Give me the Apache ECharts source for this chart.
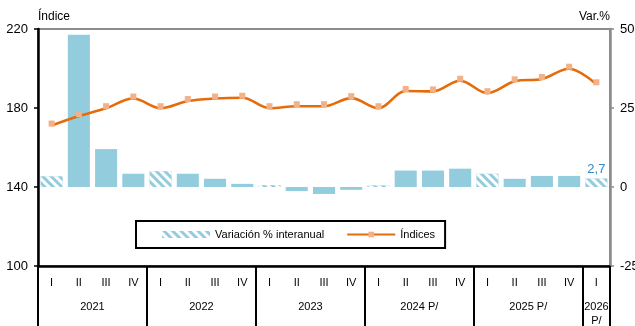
<!DOCTYPE html>
<html>
<head>
<meta charset="utf-8">
<script src="https://cdn.jsdelivr.net/npm/echarts@6/dist/echarts.min.js"></script>
<style>
  html, body { margin: 0; padding: 0; background: #fff; }
  #chart { width: 635px; height: 326px; }
</style>
</head>
<body>
<div id="chart"></div>
<script>
// Quarter labels along the bottom, one per period
const quarters = ['I','II','III','IV', 'I','II','III','IV', 'I','II','III','IV',
                  'I','II','III','IV', 'I','II','III','IV', 'I'];
// Year group labels and where each group is centred (in period units)
const years = ['2021', '2022', '2023', '2024 P/', '2025 P/', '2026\nP/'];
const yearCenters = [2, 6, 10, 14, 18, 20.5];
// Index level per quarter (left axis)
const indexValues = [171.1, 175.9, 179.9, 184.8, 179.9, 183.5, 184.8, 185.2,
                     179.9, 180.9, 180.9, 185.0, 179.9, 188.6, 188.4, 193.8,
                     187.5, 193.5, 194.7, 199.9, 192.0];
// Year-on-year change, % (right axis)
const yoyValues = [3.4, 48.2, 12.0, 4.2, 5.0, 4.2, 2.6, 1.0,
                   0.6, -1.3, -2.2, -0.9, 0.5, 5.2, 5.2, 5.8,
                   4.2, 2.6, 3.5, 3.5, 2.7];

const NARROW = "'Liberation Sans Narrow', 'Liberation Sans', Arial, sans-serif";
const SANS = "'Liberation Sans', Arial, sans-serif";
const BAR_BLUE = '#93cddd';
const makeHatch = () => ({
  symbol: 'rect',
  color: '#ffffff',
  dashArrayX: [1, 0],
  dashArrayY: [3, 3],
  rotation: Math.PI / 4
});

const lastIdx = yoyValues.length - 1;
const barData = yoyValues.map((v, i) => {
  const item = { value: v };
  if (quarters[i] === 'I') item.itemStyle = { decal: makeHatch() };
  if (i === lastIdx) {
    item.label = {
      show: true, position: 'top', distance: 3,
      color: '#2f8bc9', fontFamily: SANS, fontSize: 13,
      formatter: p => String(p.value).replace('.', ',')
    };
  }
  return item;
});

const chart = echarts.init(document.getElementById('chart'), null, { renderer: 'canvas' });
chart.setOption({
  animation: false,
  backgroundColor: '#ffffff',
  grid: {
    left: 38, right: 25, top: 29, bottom: 60,
    outerBoundsMode: 'none',
    containLabel: false,
    show: true, borderColor: '#8c8c8c', borderWidth: 2, backgroundColor: 'transparent'
  },
  legend: {
    left: 136, top: 221,
    padding: [8, 10, 8, 26],
    borderColor: '#000', borderWidth: 2,
    itemWidth: 48, itemHeight: 7, itemGap: 22,
    textStyle: { fontFamily: NARROW, fontSize: 11, color: '#000' },
    data: [
      { name: 'Variación % interanual', icon: 'rect', itemStyle: { decal: makeHatch() } },
      { name: 'Índices' }
    ]
  },
  xAxis: [
    {
      type: 'category',
      data: quarters,
      boundaryGap: true,
      axisLine: { onZero: false, lineStyle: { color: '#000', width: 2.5 } },
      axisTick: {
        show: true, length: 60,
        interval: (i) => i % 4 === 0,
        lineStyle: { color: '#000', width: 2 }
      },
      axisLabel: { interval: 0, margin: 11, fontFamily: NARROW, fontSize: 11, color: '#000' }
    },
    {
      type: 'value',
      min: 0, max: quarters.length, interval: 0.5,
      position: 'bottom',
      axisLine: { show: false, onZero: false }, axisTick: { show: false }, splitLine: { show: false },
      axisLabel: {
        margin: 34, fontFamily: NARROW, fontSize: 11, color: '#000', lineHeight: 14,
        verticalAlign: 'top',
        formatter: (v) => {
          const k = yearCenters.indexOf(v);
          return k >= 0 ? years[k] : '';
        }
      }
    }
  ],
  yAxis: [
    {
      type: 'value',
      min: 100, max: 220, interval: 40,
      name: 'Índice', nameLocation: 'end', nameGap: 6,
      nameTextStyle: { align: 'left', fontFamily: SANS, fontSize: 12, color: '#000' },
      axisLine: { show: true, lineStyle: { color: '#000', width: 2.5 } },
      axisTick: { show: true, length: 4, lineStyle: { color: '#000', width: 1.5 } },
      axisLabel: { margin: 10, fontFamily: SANS, fontSize: 13, color: '#000' },
      splitLine: { show: false }
    },
    {
      type: 'value',
      min: -25, max: 50, interval: 25,
      name: 'Var.%', nameLocation: 'end', nameGap: 6,
      nameTextStyle: { align: 'right', fontFamily: SANS, fontSize: 12, color: '#000' },
      axisLine: { show: true, lineStyle: { color: '#8c8c8c', width: 2.5 } },
      axisTick: { show: true, length: 4, lineStyle: { color: '#8c8c8c', width: 1.5 } },
      axisLabel: { margin: 10, fontFamily: SANS, fontSize: 13, color: '#000' },
      splitLine: { show: false }
    }
  ],
  series: [
    {
      name: 'Variación % interanual',
      type: 'bar',
      xAxisIndex: 0, yAxisIndex: 1,
      barCategoryGap: '19%',
      itemStyle: { color: BAR_BLUE },
      data: barData,
      z: 2
    },
    {
      name: 'Índices',
      type: 'line',
      xAxisIndex: 0, yAxisIndex: 0,
      smooth: 0.35,
      symbol: 'rect', symbolSize: 6, symbolOffset: [0, -2],
      lineStyle: { color: '#e46c0a', width: 2.6 },
      itemStyle: { color: '#f2b187' },
      data: indexValues,
      z: 3
    }
  ]
});
</script>
</body>
</html>
